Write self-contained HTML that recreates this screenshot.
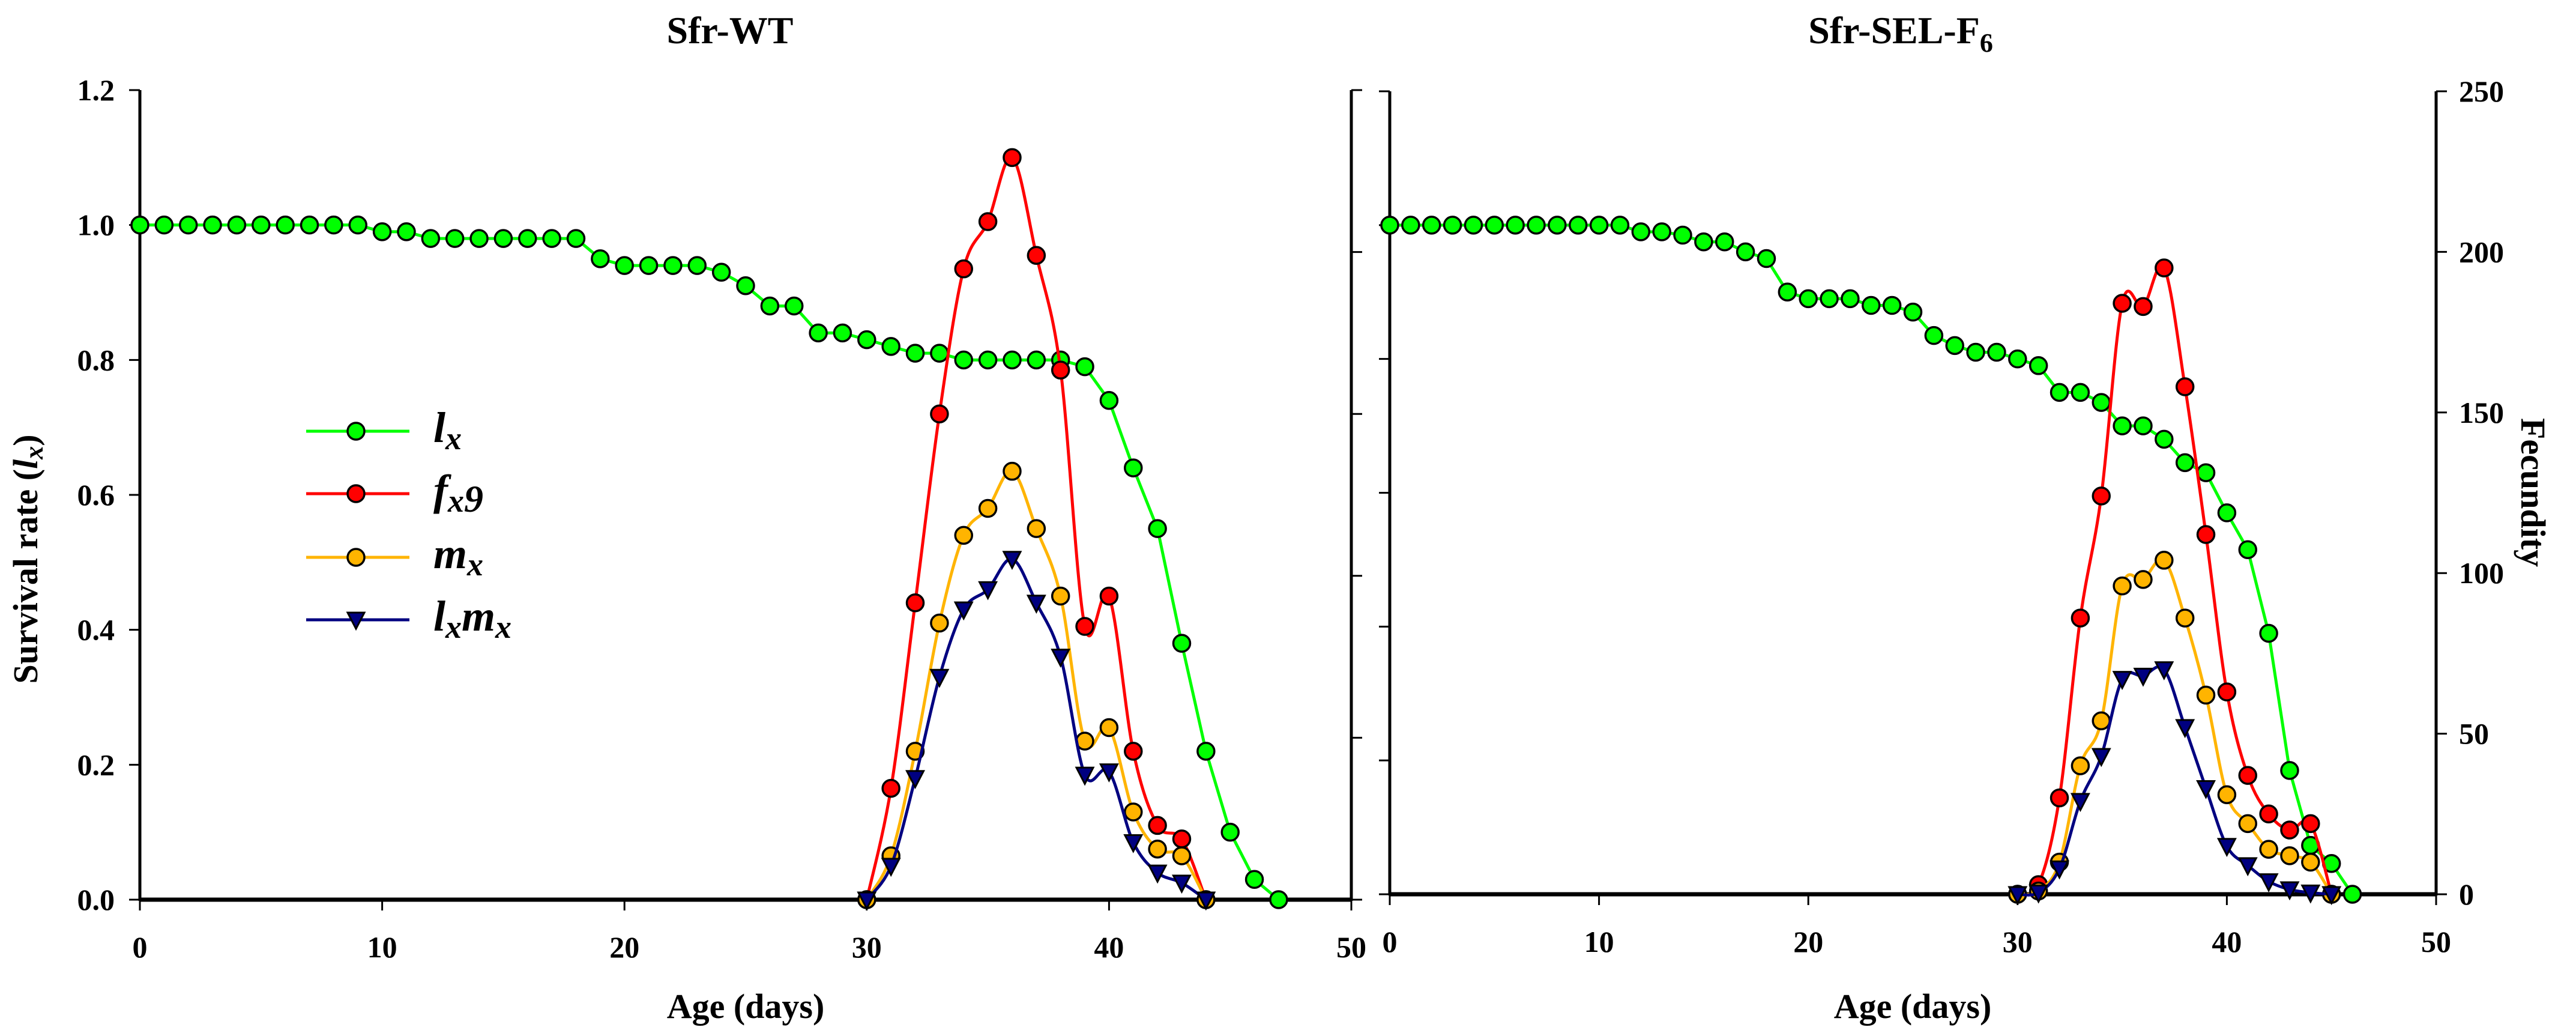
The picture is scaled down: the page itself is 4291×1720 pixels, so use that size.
<!DOCTYPE html>
<html><head><meta charset="utf-8"><style>
html,body{margin:0;padding:0;background:#fff;}
svg{display:block;font-family:"Liberation Serif",serif;}
</style></head><body>
<svg id="chart" width="4291" height="1720" viewBox="0 0 4291 1720" xmlns="http://www.w3.org/2000/svg">
<g id="layer"></g>
<text x="1216" y="72" font-size="64" font-weight="bold" text-anchor="middle">Sfr-WT</text>
<text x="3166" y="72" font-size="64" font-weight="bold" text-anchor="middle">Sfr-SEL-F<tspan font-size="44" dy="14">6</tspan></text>
<text transform="translate(62,931) rotate(-90)" font-size="58" font-weight="bold" text-anchor="middle">Survival rate (<tspan font-style="italic">l<tspan font-size="44" dy="9">x</tspan></tspan><tspan dy="-9">)</tspan></text>
<text transform="translate(4200,820) rotate(90)" font-size="58" font-weight="bold" text-anchor="middle">Fecundity</text>
<text x="1242" y="1695" font-size="58" font-weight="bold" text-anchor="middle">Age (days)</text>
<text x="3186" y="1695" font-size="58" font-weight="bold" text-anchor="middle">Age (days)</text>
</svg>
<script>
// ---- data ----
const xTicks = [0,10,20,30,40,50];
const lxTicks = ["0.0","0.2","0.4","0.6","0.8","1.0","1.2"];
const fecTicks = [0,50,100,150,200,250];
const ageWT = [0,1,2,3,4,5,6,7,8,9,10,11,12,13,14,15,16,17,18,19,20,21,22,23,24,25,26,27,28,29,30,31,32,33,34,35,36,37,38,39,40,41,42,43,44,45,46,47];
const lxWT = [1,1,1,1,1,1,1,1,1,1,0.99,0.99,0.98,0.98,0.98,0.98,0.98,0.98,0.98,0.95,0.94,0.94,0.94,0.94,0.93,0.91,0.88,0.88,0.84,0.84,0.83,0.82,0.81,0.81,0.80,0.80,0.80,0.80,0.80,0.79,0.74,0.64,0.55,0.38,0.22,0.10,0.03,0.0];
const repAgeWT = [30,31,32,33,34,35,36,37,38,39,40,41,42,43,44];
const fxWT = [0,0.165,0.44,0.72,0.935,1.005,1.10,0.955,0.785,0.405,0.45,0.22,0.11,0.09,0];
const mxWT = [0,0.065,0.22,0.41,0.54,0.58,0.635,0.55,0.45,0.235,0.255,0.13,0.075,0.065,0];
const lxmxWT = [0,0.05,0.18,0.33,0.43,0.46,0.505,0.44,0.36,0.185,0.19,0.085,0.04,0.025,0];
const ageSEL = [0,1,2,3,4,5,6,7,8,9,10,11,12,13,14,15,16,17,18,19,20,21,22,23,24,25,26,27,28,29,30,31,32,33,34,35,36,37,38,39,40,41,42,43,44,45,46];
const lxSEL = [1,1,1,1,1,1,1,1,1,1,1,1,0.99,0.99,0.985,0.975,0.975,0.96,0.95,0.90,0.89,0.89,0.89,0.88,0.88,0.87,0.835,0.82,0.81,0.81,0.80,0.79,0.75,0.75,0.735,0.70,0.70,0.68,0.645,0.63,0.57,0.515,0.39,0.185,0.073,0.046,0.0];
const repAgeSEL = [30,31,32,33,34,35,36,37,38,39,40,41,42,43,44,45];
const fxSEL = [0,3,30,86,124,184,183,195,158,112,63,37,25,20,22,0];
const mxSEL = [0,1,10,40,54,96,98,104,86,62,31,22,14,12,10,0];
const lxmxSEL = [0,0.5,8,29,43,67,68,70,52,33,15,9,4,1.5,0.5,0];

const NS="http://www.w3.org/2000/svg";
const layer=document.getElementById('layer');
function el(tag,attrs,parent){const e=document.createElementNS(NS,tag);for(const k in attrs)e.setAttribute(k,attrs[k]);(parent||layer).appendChild(e);return e;}

const C={lx:"#00ff00",fx:"#ff0000",mx:"#ffb400",lxmx:"#000080"};
const P1={x0:233,x1:2251,y0:1498,yTop:150};
const P2={x0:2315,x1:4058,y0:1489,yTop:152};
function sx(P,v){return P.x0+(P.x1-P.x0)*v/50;}
function syL(P,v){return P.y0-(P.y0-P.yTop)*v/1.2;}
function syF(P,v){return P.y0-(P.y0-P.yTop)*v/250;}

function smoothPath(pts){
  let d="M"+pts[0][0]+","+pts[0][1];
  for(let i=0;i<pts.length-1;i++){
    const p0=pts[Math.max(0,i-1)],p1=pts[i],p2=pts[i+1],p3=pts[Math.min(pts.length-1,i+2)];
    const c1x=p1[0]+(p2[0]-p0[0])/6,c1y=p1[1]+(p2[1]-p0[1])/6;
    const c2x=p2[0]-(p3[0]-p1[0])/6,c2y=p2[1]-(p3[1]-p1[1])/6;
    d+=" C"+c1x+","+c1y+" "+c2x+","+c2y+" "+p2[0]+","+p2[1];
  }
  return d;
}
function series(pts,color,name,smooth,tri){
  const g=el('g',{});
  
  
  const d=smooth?smoothPath(pts):"M"+pts.map(p=>p[0]+","+p[1]).join(" L");
  const path=el('path',{d:d,fill:"none",stroke:color,"stroke-width":5},g);
  
  
  pts.forEach(p=>{
    let m;
    if(tri){m=el('polygon',{points:(p[0]-14)+","+(p[1]-12)+" "+(p[0]+14)+","+(p[1]-12)+" "+p[0]+","+(p[1]+15),fill:color,stroke:"#000","stroke-width":3},g);}
    else{m=el('circle',{cx:p[0],cy:p[1],r:14,fill:color,stroke:"#000","stroke-width":3.5},g);}
    
    
  });
}
function axes(P,side){
  const g=el('g',{});
  
  
  el('line',{x1:P.x0,y1:P.y0,x2:P.x1,y2:P.y0,stroke:"#000","stroke-width":7},g);
  el('line',{x1:P.x0,y1:P.y0+2,x2:P.x0,y2:P.yTop,stroke:"#000","stroke-width":5},g);
  el('line',{x1:P.x1,y1:P.y0+2,x2:P.x1,y2:P.yTop,stroke:"#000","stroke-width":5},g);
  xTicks.forEach(t=>{
    const x=sx(P,t);
    el('line',{x1:x,y1:P.y0,x2:x,y2:P.y0+18,stroke:"#000","stroke-width":3},g);
    const tx=el('text',{x:x,y:P.y0+96,"font-size":50,"font-weight":"bold","text-anchor":"middle"},g);
    tx.textContent=t;
    
    
  });
  lxTicks.forEach((t,i)=>{
    const y=syL(P,i*0.2);
    el('line',{x1:P.x0-18,y1:y,x2:P.x0,y2:y,stroke:"#000","stroke-width":3},g);
    if(side==='left'){
      const tx=el('text',{x:P.x0-42,y:y+17,"font-size":50,"font-weight":"bold","text-anchor":"end"},g);
      tx.textContent=t;
      
      
    }
  });
  fecTicks.forEach(t=>{
    const y=syF(P,t);
    el('line',{x1:P.x1,y1:y,x2:P.x1+18,y2:y,stroke:"#000","stroke-width":3},g);
    if(side==='right'){
      const tx=el('text',{x:P.x1+38,y:y+17,"font-size":50,"font-weight":"bold","text-anchor":"start"},g);
      tx.textContent=t;
      
      
    }
  });
}
axes(P1,'left');axes(P2,'right');

series(ageWT.map((a,i)=>[sx(P1,a),syL(P1,lxWT[i])]),C.lx,'wt-lx',false,false);
series(repAgeWT.map((a,i)=>[sx(P1,a),syL(P1,fxWT[i])]),C.fx,'wt-fx9',true,false);
series(repAgeWT.map((a,i)=>[sx(P1,a),syL(P1,mxWT[i])]),C.mx,'wt-mx',true,false);
series(repAgeWT.map((a,i)=>[sx(P1,a),syL(P1,lxmxWT[i])]),C.lxmx,'wt-lxmx',true,true);

series(ageSEL.map((a,i)=>[sx(P2,a),syL(P2,lxSEL[i])]),C.lx,'sel-lx',false,false);
series(repAgeSEL.map((a,i)=>[sx(P2,a),syF(P2,fxSEL[i])]),C.fx,'sel-fx9',true,false);
series(repAgeSEL.map((a,i)=>[sx(P2,a),syF(P2,mxSEL[i])]),C.mx,'sel-mx',true,false);
series(repAgeSEL.map((a,i)=>[sx(P2,a),syF(P2,lxmxSEL[i])]),C.lxmx,'sel-lxmx',true,true);

// legend
const legendItems=[["lx",C.lx,false],["fx9",C.fx,false],["mx",C.mx,false],["lxmx",C.lxmx,true]];
const legendY=[718,822,928,1032];
const lg=el('g',{});


legendItems.forEach((it,i)=>{
  const y=legendY[i];
  const eg=el('g',{},lg);
  
  
  el('line',{x1:510,y1:y,x2:682,y2:y,stroke:it[1],"stroke-width":5},eg);
  if(it[2]) el('polygon',{points:"579,"+(y-12)+" 607,"+(y-12)+" 593,"+(y+15),fill:it[1],stroke:"#000","stroke-width":3},eg);
  else el('circle',{cx:593,cy:y,r:14,fill:it[1],stroke:"#000","stroke-width":3.5},eg);
  const t=el('text',{x:722,y:y+18,"font-size":72,"font-style":"italic","font-weight":"bold"},eg);
  if(it[0]==="lx") t.innerHTML='l<tspan font-size="54" dy="12">x</tspan>';
  else if(it[0]==="fx9") t.innerHTML='f<tspan font-size="54" dy="12">x</tspan><tspan font-size="64">9</tspan>';
  else if(it[0]==="mx") t.innerHTML='m<tspan font-size="54" dy="12">x</tspan>';
  else t.innerHTML='l<tspan font-size="54" dy="12">x</tspan><tspan dy="-12">m</tspan><tspan font-size="54" dy="12">x</tspan>';
});
</script>
</body></html>
